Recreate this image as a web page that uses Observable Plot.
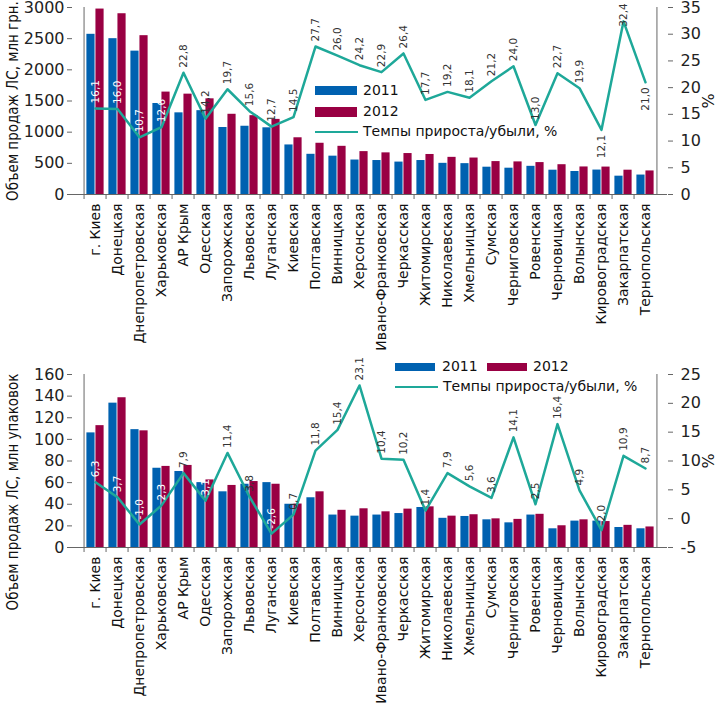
<!DOCTYPE html>
<html>
<head>
<meta charset="utf-8">
<script src="https://cdn.jsdelivr.net/npm/d3@7"></script>
<script src="https://cdn.jsdelivr.net/npm/@observablehq/plot@0.6"></script>
<style>
  body { margin: 0; background: #fff; }
  #wrap { position: relative; width: 720px; height: 709px; overflow: hidden; font-family: "DejaVu Sans", sans-serif; }
  #wrap svg { display: block; }
  .lg { position: absolute; font-size: 14px; color: #111; line-height: 1; white-space: nowrap; }
  .sw { position: absolute; }
</style>
</head>
<body>
<div id="wrap"></div>
<script>
const categories = ["г. Киев", "Донецкая", "Днепропетровская", "Харьковская", "АР Крым", "Одесская", "Запорожская", "Львовская", "Луганская", "Киевская", "Полтавская", "Винницкая", "Херсонская", "Ивано-Франковская", "Черкасская", "Житомирская", "Николаевская", "Хмельницкая", "Сумская", "Черниговская", "Ровенская", "Черновицкая", "Волынская", "Кировоградская", "Закарпатская", "Тернопольская"];

// Top chart: sales, mln UAH
const uah2011 = [2570, 2500, 2300, 1460, 1310, 1345, 1075, 1095, 1070, 795, 645, 615, 553, 545, 520, 545, 500, 495, 438, 422, 452, 390, 369, 392, 294, 312];
const uah2012 = [2975, 2900, 2548, 1643, 1610, 1535, 1287, 1265, 1205, 910, 822, 773, 688, 668, 657, 642, 596, 585, 528, 523, 512, 478, 442, 440, 390, 378];
const uahGrowth = [16.1, 16.0, 10.7, 12.6, 22.8, 14.2, 19.7, 15.6, 12.7, 14.5, 27.7, 26.0, 24.2, 22.9, 26.4, 17.7, 19.2, 18.1, 21.2, 24.0, 13.0, 22.7, 19.9, 12.1, 32.4, 21.0];

// Bottom chart: sales, mln packages
const pack2011 = [106, 133.5, 109, 73.3, 70.3, 60, 51.5, 58.5, 60, 40, 46, 30, 29, 30, 31.4, 37, 27, 28.7, 25.6, 22.8, 30, 17.3, 24.4, 24.4, 18.5, 17.3];
const pack2012 = [112.7, 138.5, 107.9, 75, 75.9, 62.5, 57.4, 61, 58.5, 40.2, 51.5, 34.4, 35.8, 33, 35.5, 37.6, 29, 30.3, 26.5, 26, 30.7, 20.1, 25.6, 24, 20.5, 19];
const packGrowth = [6.3, 3.7, -1.0, 2.3, 7.9, 3.1, 11.4, 3.8, -2.6, 0.7, 11.8, 15.4, 23.1, 10.4, 10.2, 1.4, 7.9, 5.6, 3.6, 14.1, 2.5, 16.4, 4.9, -2.0, 10.9, 8.7];

const topLeftTicks = [0, 500, 1000, 1500, 2000, 2500, 3000];
const topRightTicks = [0, 5, 10, 15, 20, 25, 30, 35];
const bottomLeftTicks = [0, 20, 40, 60, 80, 100, 120, 140, 160];
const bottomRightTicks = [-5, 0, 5, 10, 15, 20, 25];

const seriesNames = ["2011", "2012"];
const lineName = "Темпы прироста/убыли, %";
const topTitle = "Объем продаж ЛС, млн грн.";
const bottomTitle = "Объем продаж ЛС, млн упаковок";

const BLUE = "#0061b0", RED = "#990043", TEAL = "#1ea899";
const W = 720, ML = 72, MR = 53;
const LBL = 10.5;

function fmt(v) { return v.toFixed(1).replace(".", ","); }
function lblLen(v) { return fmt(v).length * 0.6 * LBL; }

function makeChart(o) {
  const rows = categories.map((c, i) => ({cat: c, a: o.v11[i], b: o.v12[i], p: o.pct[i]}));
  const bw = (W - ML - MR) / categories.length;
  const pToY = p => (p - o.pMin) / (o.pMax - o.pMin) * o.yMax;
  const plotH = o.height - o.mt - o.mb;
  const yPx = v => o.mt + (1 - v / o.yMax) * plotH;
  const pxToUnits = px => px / plotH * o.yMax;
  const isBelow = d => o.below.includes(d.cat);
  // gap (px) between point and start of label, reduced if the label would leave the picture
  const gap = d => Math.min(5, yPx(pToY(d.p)) - lblLen(d.p) - 1);
  const isWhite = d => {
    if (isBelow(d)) return false;
    const labTop = yPx(pToY(d.p)) - gap(d) - lblLen(d.p);
    return labTop > yPx(Math.min(d.a, d.b)) - 8;
  };
  const aboveY = d => pToY(d.p) + pxToUnits(gap(d));
  const lbl = {x: "cat", text: d => fmt(d.p), rotate: -90, fontSize: LBL};
  return Plot.plot({
    width: W, height: o.height,
    marginLeft: ML, marginRight: MR, marginTop: o.mt, marginBottom: o.mb,
    style: {fontFamily: "'DejaVu Sans', sans-serif", fontSize: "16px", color: "#222", background: "white"},
    x: {type: "band", domain: categories, padding: 0, label: null},
    y: {domain: [0, o.yMax], label: null},
    marks: [
      Plot.barY(rows, {x: "cat", y: "a", fill: BLUE, insetLeft: 2.4, insetRight: bw / 2}),
      Plot.barY(rows, {x: "cat", y: "b", fill: RED, insetLeft: bw / 2, insetRight: 2.4}),
      Plot.ruleY([0], {stroke: "#666"}),
      Plot.ruleX([categories[0]], {dx: -bw / 2, stroke: "#666"}),
      Plot.ruleX([categories[categories.length - 1]], {dx: bw / 2, stroke: "#666"}),
      Plot.axisY(o.leftTicks, {anchor: "left", tickSize: 5, tickPadding: 3, fontSize: 16, label: null, stroke: "#666", tickFormat: d => String(d)}),
      Plot.axisY(o.rightTicks.map(pToY), {anchor: "right", tickSize: 5, tickPadding: 8, fontSize: 16, label: null, stroke: "#666",
        tickFormat: v => String(Math.round(v / o.yMax * (o.pMax - o.pMin) + o.pMin))}),
      Plot.axisX({tickSize: 5, dx: -bw / 2, tickFormat: () => "", label: null, stroke: "#666"}),
      Plot.axisX({tickSize: 0, tickPadding: 9, tickRotate: -90, fontSize: 14, label: null, fill: "#111"}),
      Plot.line(rows, {x: "cat", y: d => pToY(d.p), stroke: TEAL, strokeWidth: 2.5}),
      Plot.text(rows.filter(d => !isBelow(d) && isWhite(d)), {...lbl, y: aboveY, textAnchor: "start", fill: "white"}),
      Plot.text(rows.filter(d => !isBelow(d) && !isWhite(d)), {...lbl, y: aboveY, textAnchor: "start", fill: "#333"}),
      Plot.text(rows.filter(d => isBelow(d)), {...lbl, y: d => pToY(d.p), textAnchor: "end", dy: 5, fill: "#333"}),
      Plot.text([o.title], {text: d => d, frameAnchor: "left", textAnchor: "middle", rotate: -90, dx: -59, dy: o.titleDy, fontSize: 15, fill: "#111"}),
      Plot.text(["%"], {text: d => d, frameAnchor: "right", textAnchor: "middle", rotate: -90, dx: 41, fontSize: 16, fill: "#111"})
    ]
  });
}

function condense(svg, strings) {
  svg.querySelectorAll("text").forEach(t => {
    if (strings.includes(t.textContent)) {
      t.style.fontStretch = "condensed";
      t.style.fontFamily = "'DejaVu Sans', sans-serif";
    }
  });
}

const wrap = document.getElementById("wrap");
const chartTop = makeChart({height: 352, mt: 7, mb: 158, yMax: 3000, pMin: 0, pMax: 35,
  leftTicks: topLeftTicks, rightTicks: topRightTicks, v11: uah2011, v12: uah2012, pct: uahGrowth,
  title: topTitle, titleDy: 0, below: ["Кировоградская", "Тернопольская"]});
const chartBottom = makeChart({height: 357, mt: 22, mb: 162, yMax: 160, pMin: -5, pMax: 25,
  leftTicks: bottomLeftTicks, rightTicks: bottomRightTicks, v11: pack2011, v12: pack2012, pct: packGrowth,
  title: bottomTitle, titleDy: 31, below: []});
condense(chartTop, [topTitle]);
condense(chartBottom, [bottomTitle]);
wrap.appendChild(chartTop);
wrap.appendChild(chartBottom);

function legendItem(kind, color, x, y, w, h, label, tx) {
  const sw = document.createElement("div");
  sw.className = "sw";
  sw.style.left = x + "px";
  sw.style.width = w + "px";
  if (kind === "bar") {
    sw.style.top = y + "px"; sw.style.height = h + "px"; sw.style.background = color;
  } else {
    sw.style.top = (y - 1.25) + "px"; sw.style.height = "2.5px"; sw.style.background = color;
  }
  wrap.appendChild(sw);
  const t = document.createElement("div");
  t.className = "lg";
  t.textContent = label;
  t.style.left = tx + "px";
  t.style.top = (kind === "bar" ? y + h / 2 : y) - 8 + "px";
  wrap.appendChild(t);
}
// top legend (inside top plot)
legendItem("bar", BLUE, 315, 86, 42, 9, seriesNames[0], 363);
legendItem("bar", RED, 315, 107, 42, 10, seriesNames[1], 363);
legendItem("line", TEAL, 315, 132, 43, 0, lineName, 363);
// bottom legend
legendItem("bar", BLUE, 395, 363, 40, 8, seriesNames[0], 442);
legendItem("bar", RED, 487, 363, 40, 8, seriesNames[1], 533);
legendItem("line", TEAL, 395, 387, 43, 0, lineName, 443);
</script>
</body>
</html>
